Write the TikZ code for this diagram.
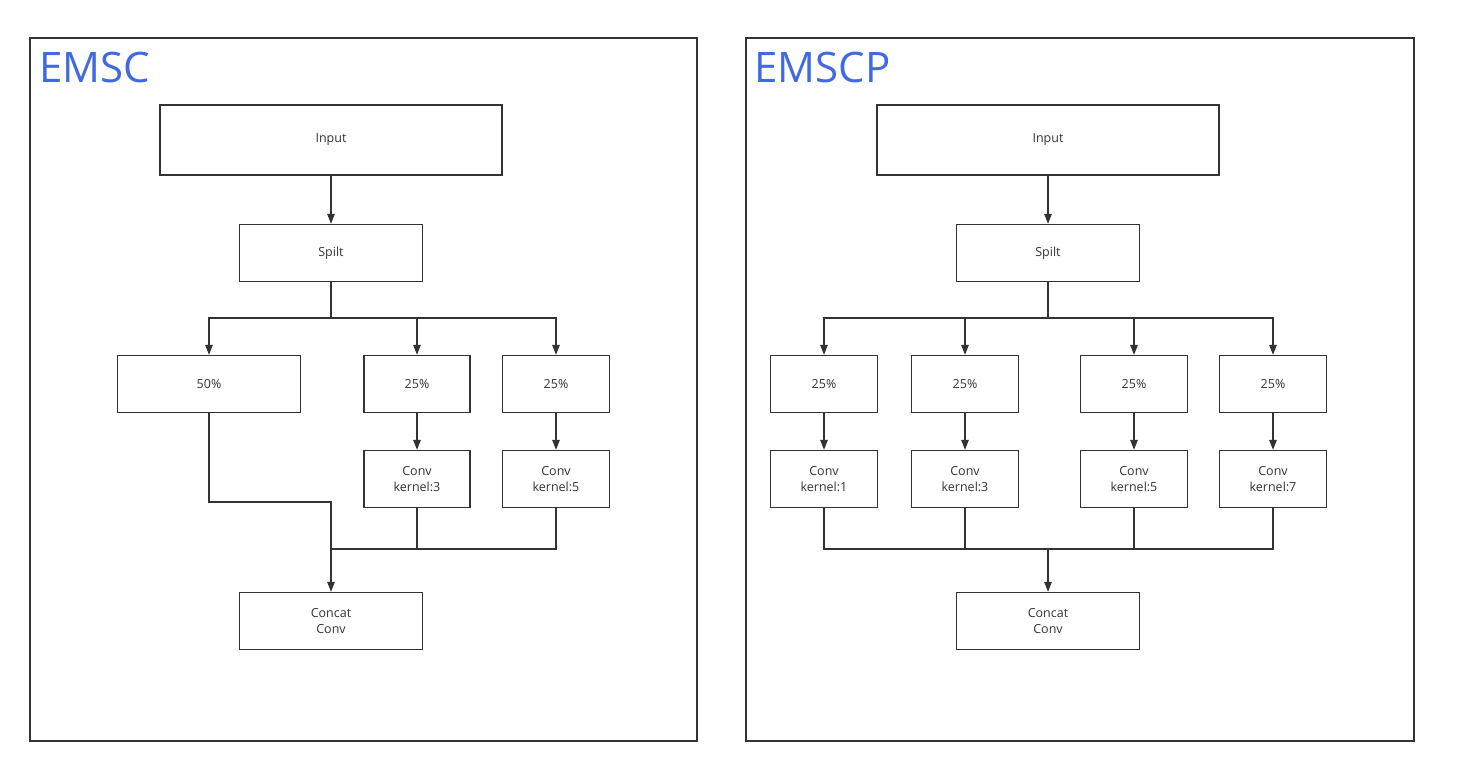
\documentclass[tikz,border=0pt]{standalone}
\usepackage{fontspec}
\setmainfont{Open Sans}
\usetikzlibrary{arrows.meta}
\definecolor{ln}{HTML}{333333}
\definecolor{ttl}{HTML}{4169E1}
\begin{document}
\begin{tikzpicture}[x=1pt,y=-1pt,
  box/.style={draw=ln,line width=1.3pt,inner sep=0pt,align=center,font=\fontsize{12.5}{16}\selectfont,text=ln},
  frame/.style={draw=ln,line width=1.3pt},
  conn/.style={draw=ln,line width=1.3pt},
  arr/.style={conn,-{Triangle[length=10pt,width=7.5pt]}},
  title/.style={anchor=west,text=ttl,inner sep=0pt,font=\fontsize{42}{48}\selectfont}]
\useasboundingbox (0,0) rectangle (1459,781);
% frames
\draw[frame] (30,38) rectangle (697,741);
\draw[frame] (746,38) rectangle (1414,741);
\node[title] (t1) at (39,67) {EMSC};
\node[title] (t2) at (754,67) {EMSCP};
% ===== Left =====
\node[box,minimum width=342pt,minimum height=70pt] (inA) at (331,140) {Input};
\node[box,minimum width=183pt,minimum height=57pt] (spA) at (331,253) {Spilt};
\node[box,minimum width=183pt,minimum height=57pt] (pA1) at (209,384) {50\%};
\node[box,minimum width=106pt,minimum height=57pt] (pA2) at (417,384) {25\%};
\node[box,minimum width=107pt,minimum height=57pt] (pA3) at (556,384) {25\%};
\node[box,minimum width=106pt,minimum height=57pt] (cA2) at (417,479) {Conv\\kernel:3};
\node[box,minimum width=107pt,minimum height=57pt] (cA3) at (556,479) {Conv\\kernel:5};
\node[box,minimum width=183pt,minimum height=57pt] (ccA) at (331,621) {Concat\\Conv};
\coordinate (jA) at (331,318);
\coordinate (mA) at (331,549);
\draw[arr] (inA.south) -- (spA.north);
\draw[conn] (spA.south) -- (jA);
\draw[arr] (jA) -| (pA1.north);
\draw[arr] (jA) -| (pA2.north);
\draw[arr] (jA) -| (pA3.north);
\draw[arr] (pA2) -- (cA2);
\draw[arr] (pA3) -- (cA3);
\draw[conn] (pA1.south) |- (331,502) -- (mA);
\draw[conn] (cA2.south) |- (mA);
\draw[conn] (cA3.south) |- (mA);
\draw[arr] (mA) -- (ccA.north);
% ===== Right =====
\node[box,minimum width=342pt,minimum height=70pt] (inB) at (1048,140) {Input};
\node[box,minimum width=183pt,minimum height=57pt] (spB) at (1048,253) {Spilt};
\node[box,minimum width=107pt,minimum height=57pt] (pB1) at (824,384) {25\%};
\node[box,minimum width=107pt,minimum height=57pt] (pB2) at (965,384) {25\%};
\node[box,minimum width=107pt,minimum height=57pt] (pB3) at (1134,384) {25\%};
\node[box,minimum width=107pt,minimum height=57pt] (pB4) at (1273,384) {25\%};
\node[box,minimum width=107pt,minimum height=57pt] (cB1) at (824,479) {Conv\\kernel:1};
\node[box,minimum width=107pt,minimum height=57pt] (cB2) at (965,479) {Conv\\kernel:3};
\node[box,minimum width=107pt,minimum height=57pt] (cB3) at (1134,479) {Conv\\kernel:5};
\node[box,minimum width=107pt,minimum height=57pt] (cB4) at (1273,479) {Conv\\kernel:7};
\node[box,minimum width=183pt,minimum height=57pt] (ccB) at (1048,621) {Concat\\Conv};
\coordinate (jB) at (1048,318);
\coordinate (mB) at (1048,549);
\draw[arr] (inB.south) -- (spB.north);
\draw[conn] (spB.south) -- (jB);
\foreach \n in {pB1,pB2,pB3,pB4} \draw[arr] (jB) -| (\n.north);
\foreach \p/\c in {pB1/cB1,pB2/cB2,pB3/cB3,pB4/cB4} \draw[arr] (\p) -- (\c);
\foreach \c in {cB1,cB2,cB3,cB4} \draw[conn] (\c.south) |- (mB);
\draw[arr] (mB) -- (ccB.north);
\end{tikzpicture}
\end{document}
